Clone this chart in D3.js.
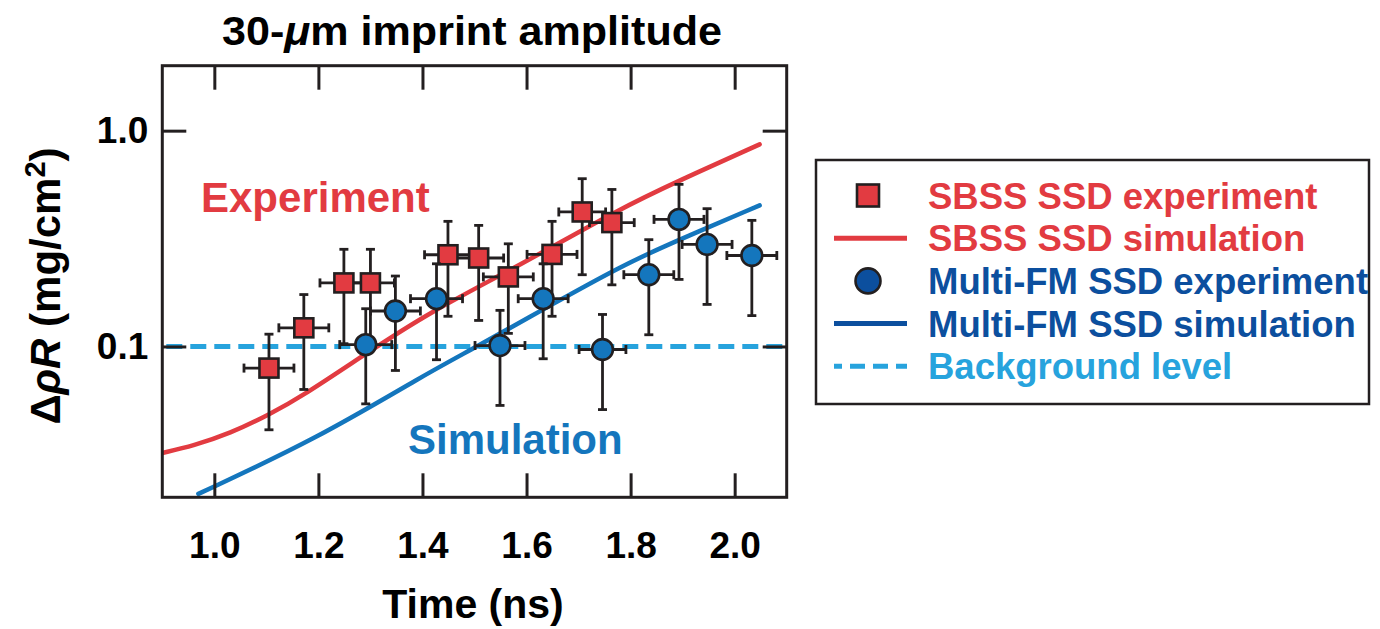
<!DOCTYPE html>
<html><head><meta charset="utf-8">
<script src="https://cdn.jsdelivr.net/npm/d3@7"></script>
<style>
body{margin:0;background:#fff;}
svg text{font-family:"Liberation Sans",Arial,Helvetica,sans-serif;font-weight:bold;}
</style></head><body>
<svg id="chart" width="1380" height="629"></svg>
<script>
// ---- data ----
const xTicks = [1.0, 1.2, 1.4, 1.6, 1.8, 2.0];
const yTicks = [0.1, 1.0];
const background = 0.1;

// SBSS SSD experiment (squares)
const sbssT  = [1.105, 1.172, 1.249, 1.300, 1.449, 1.508, 1.565, 1.649, 1.707, 1.764];
const sbssV  = [0.0794, 0.122, 0.197, 0.197, 0.266, 0.257, 0.210, 0.267, 0.420, 0.375];
const sbssHi = [0.114, 0.174, 0.282, 0.282, 0.380, 0.364, 0.299, 0.380, 0.599, 0.534];
const sbssLo = [0.0411, 0.0632, 0.103, 0.105, 0.138, 0.132, 0.115, 0.138, 0.215, 0.193];
const sbssTErr = [0.048, 0.048, 0.046, 0.046, 0.045, 0.048, 0.048, 0.048, 0.045, 0.043];

// Multi-FM SSD experiment (circles)
const mfmT  = [1.291, 1.348, 1.427, 1.549, 1.632, 1.746, 1.835, 1.893, 1.947, 2.033];
const mfmV  = [0.102, 0.146, 0.1665, 0.101, 0.1665, 0.0968, 0.215, 0.388, 0.297, 0.264];
const mfmHi = [0.1496, 0.212, 0.2416, 0.147, 0.2416, 0.1407, 0.3125, 0.564, 0.435, 0.384];
const mfmLo = [0.0542, 0.0774, 0.0868, 0.0533, 0.0877, 0.051, 0.1133, 0.2045, 0.1566, 0.139];
const mfmTErr = [0.050, 0.048, 0.050, 0.048, 0.048, 0.045, 0.048, 0.048, 0.048, 0.048];

// Simulations
const sbssSimT = [0.9, 0.96, 1.03, 1.1045, 1.172, 1.291, 1.414, 1.587, 1.779, 1.894, 2.048];
const sbssSimV = [0.0321, 0.0347, 0.0395, 0.0482, 0.0594, 0.0925, 0.1444, 0.2374, 0.4348, 0.588, 0.864];
const mfmSimT  = [0.9693, 1.1967, 1.4046, 1.4974, 1.651, 1.7791, 1.8688, 2.048];
const mfmSimV  = [0.02075, 0.0373, 0.0741, 0.0976, 0.1577, 0.2334, 0.295, 0.4505];

const legendLabels = ["SBSS SSD experiment", "SBSS SSD simulation", "Multi-FM SSD experiment", "Multi-FM SSD simulation", "Background level"];

// ---- styles ----
const RED = "#e23b41", BLUE = "#1476bd", DBLUE = "#0c4f9e", LBLUE = "#27a3dd", INK = "#231f20";

const svg = d3.select("#chart");
const x = d3.scaleLinear().domain([0.9, 2.1]).range([162.3, 786.7]);
const y = d3.scaleLog().domain([0.02, 2]).range([497.3, 65.7]);

const defs = svg.append("defs");
defs.append("clipPath").attr("id", "plotclip").append("rect")
  .attr("x", x(0.9)).attr("y", y(2)).attr("width", x(2.1) - x(0.9)).attr("height", y(0.02) - y(2));

// background level
svg.append("line").attr("x1", x(0.9)).attr("x2", x(2.1)).attr("y1", y(background)).attr("y2", y(background))
  .attr("stroke", LBLUE).attr("stroke-width", 5).attr("stroke-dasharray", "16,8").attr("stroke-dashoffset", -4);

// simulation curves
const line = d3.line().x(d => x(d[0])).y(d => y(d[1])).curve(d3.curveBasis);
const gCurves = svg.append("g").attr("clip-path", "url(#plotclip)");
gCurves.append("path").datum(sbssSimT.map((t, i) => [t, sbssSimV[i]]))
  .attr("d", line).attr("fill", "none").attr("stroke", RED).attr("stroke-width", 4.5).attr("stroke-linecap", "round");
gCurves.append("path").datum(mfmSimT.map((t, i) => [t, mfmSimV[i]]))
  .attr("d", line).attr("fill", "none").attr("stroke", BLUE).attr("stroke-width", 4.5).attr("stroke-linecap", "round");

// axes & frame
const fmt = d3.format(".1f");
const axB = svg.append("g").attr("transform", `translate(0,${y(0.02)})`)
  .call(d3.axisBottom(x).tickValues(xTicks).tickSizeInner(-24).tickSizeOuter(0).tickPadding(34).tickFormat(fmt));
const axT = svg.append("g").attr("transform", `translate(0,${y(2)})`)
  .call(d3.axisTop(x).tickValues(xTicks).tickSizeInner(-24).tickSizeOuter(0).tickFormat(""));
const axL = svg.append("g").attr("transform", `translate(${x(0.9)},0)`)
  .call(d3.axisLeft(y).tickValues(yTicks).tickSizeInner(-24).tickSizeOuter(0).tickPadding(14).tickFormat(fmt));
const axR = svg.append("g").attr("transform", `translate(${x(2.1)},0)`)
  .call(d3.axisRight(y).tickValues(yTicks).tickSizeInner(-24).tickSizeOuter(0).tickFormat(""));
[axB, axT, axL, axR].forEach(g => {
  g.select(".domain").remove();
  g.selectAll(".tick line").attr("stroke", INK).attr("stroke-width", 3);
  g.selectAll(".tick text").attr("fill", "#000").style("font-size", "37px")
    .style("font-family", '"Liberation Sans",Arial,sans-serif').style("font-weight", "bold");
});
svg.append("rect").attr("x", x(0.9)).attr("y", y(2)).attr("width", x(2.1) - x(0.9)).attr("height", y(0.02) - y(2))
  .attr("fill", "none").attr("stroke", INK).attr("stroke-width", 3);

// error bars + markers
function errorBars(T, V, Lo, Hi, TE) {
  const g = svg.append("g").attr("stroke", INK).attr("stroke-width", 2.8);
  T.forEach((t, i) => {
    const cx = x(t), cy = y(V[i]), y0 = y(Lo[i]), y1 = y(Hi[i]), x0 = x(t - TE[i]), x1 = x(t + TE[i]);
    g.append("line").attr("x1", cx).attr("x2", cx).attr("y1", y0).attr("y2", y1);
    g.append("line").attr("x1", cx - 4.5).attr("x2", cx + 4.5).attr("y1", y0).attr("y2", y0);
    g.append("line").attr("x1", cx - 4.5).attr("x2", cx + 4.5).attr("y1", y1).attr("y2", y1);
    g.append("line").attr("x1", x0).attr("x2", x1).attr("y1", cy).attr("y2", cy);
    g.append("line").attr("x1", x0).attr("x2", x0).attr("y1", cy - 4.5).attr("y2", cy + 4.5);
    g.append("line").attr("x1", x1).attr("x2", x1).attr("y1", cy - 4.5).attr("y2", cy + 4.5);
  });
}
errorBars(sbssT, sbssV, sbssLo, sbssHi, sbssTErr);
svg.append("g").selectAll("rect").data(sbssT.map((t, i) => [t, sbssV[i]])).join("rect")
  .attr("x", d => x(d[0]) - 9.5).attr("y", d => y(d[1]) - 9.5).attr("width", 19).attr("height", 19)
  .attr("fill", RED).attr("stroke", INK).attr("stroke-width", 2.6);
errorBars(mfmT, mfmV, mfmLo, mfmHi, mfmTErr);
svg.append("g").selectAll("circle").data(mfmT.map((t, i) => [t, mfmV[i]])).join("circle")
  .attr("cx", d => x(d[0])).attr("cy", d => y(d[1])).attr("r", 10.4)
  .attr("fill", BLUE).attr("stroke", INK).attr("stroke-width", 2.6);

// annotations
svg.append("text").attr("x", 201).attr("y", 212).attr("fill", RED).style("font-size", "42px").text("Experiment");
svg.append("text").attr("x", 408).attr("y", 454).attr("fill", BLUE).style("font-size", "42px").text("Simulation");

// title
const title = svg.append("text").attr("x", 472).attr("y", 45).attr("text-anchor", "middle").attr("fill", "#000")
  .style("font-size", "40px").attr("textLength", 500).attr("lengthAdjust", "spacingAndGlyphs");
title.append("tspan").text("30-");
title.append("tspan").style("font-style", "italic").text("\u03bc");
title.append("tspan").text("m imprint amplitude");

// x label
svg.append("text").attr("x", 473).attr("y", 618).attr("text-anchor", "middle").attr("fill", "#000").style("font-size", "41px").text("Time (ns)");

// y label
const yl = svg.append("text").attr("transform", "translate(60,286) rotate(-90)").attr("text-anchor", "middle").attr("fill", "#000").style("font-size", "42px");
yl.append("tspan").text("\u0394");
yl.append("tspan").style("font-style", "italic").text("\u03c1R");
yl.append("tspan").text(" (mg/cm");
yl.append("tspan").attr("dy", -15).style("font-size", "29px").text("2");
yl.append("tspan").attr("dy", 15).text(")");

// legend
const lg = svg.append("g");
lg.append("rect").attr("x", 816).attr("y", 160).attr("width", 553).attr("height", 244)
  .attr("fill", "#fff").attr("stroke", INK).attr("stroke-width", 2.5);
const rowY = d3.range(legendLabels.length).map(i => 195.5 + i * 42.7);
const legColors = [RED, RED, DBLUE, DBLUE, LBLUE];
lg.append("rect").attr("x", 868 - 11).attr("y", rowY[0] - 11).attr("width", 22).attr("height", 22)
  .attr("fill", RED).attr("stroke", INK).attr("stroke-width", 2.6);
lg.append("line").attr("x1", 834).attr("x2", 907).attr("y1", rowY[1]).attr("y2", rowY[1]).attr("stroke", RED).attr("stroke-width", 5);
lg.append("circle").attr("cx", 868).attr("cy", rowY[2]).attr("r", 12.5).attr("fill", DBLUE).attr("stroke", INK).attr("stroke-width", 2.6);
lg.append("line").attr("x1", 834).attr("x2", 907).attr("y1", rowY[3]).attr("y2", rowY[3]).attr("stroke", DBLUE).attr("stroke-width", 5);
lg.append("line").attr("x1", 834).attr("x2", 907).attr("y1", rowY[4]).attr("y2", rowY[4]).attr("stroke", LBLUE).attr("stroke-width", 5).attr("stroke-dasharray", "8,8,15,8,15,8,15");
lg.selectAll("text.leg").data(legendLabels).join("text").attr("class", "leg")
  .attr("x", 928).attr("y", (d, i) => rowY[i] + 13).attr("fill", (d, i) => legColors[i])
  .style("font-size", "36.5px").text(d => d);
</script>
</body></html>
